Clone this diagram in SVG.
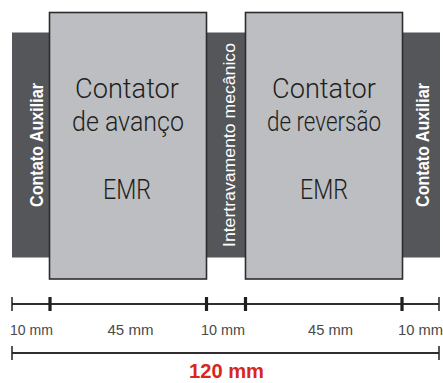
<svg xmlns="http://www.w3.org/2000/svg" width="443" height="383" viewBox="0 0 443 383">
<style>
.bar{fill:#54565a;}
.box{fill:#bcbec1;stroke:#2c2c2e;stroke-width:1.6;}
.big{font-family:Roboto,"Liberation Sans",sans-serif;font-weight:300;font-size:28px;fill:#1e1e20;text-anchor:middle;}
.vt{font-family:"Liberation Sans",Arial,sans-serif;fill:#ffffff;text-anchor:middle;}
.dim{stroke:#2e2e2e;stroke-width:2;fill:none;}
.tk{stroke:#1e1e1e;stroke-width:1.5;}
.tkb{stroke:#1e1e1e;stroke-width:3.2;}
.lbl{font-family:"Liberation Sans",Arial,sans-serif;font-size:14px;fill:#4a4a4a;}
.tot{font-family:"Liberation Sans",Arial,sans-serif;font-size:21px;font-weight:bold;fill:#d8261e;text-anchor:middle;}
</style>
<rect width="443" height="383" fill="#ffffff"/>
<g id="aux-left">
<rect class="bar" x="12" y="32.5" width="38" height="225"/>
<text class="vt" font-size="18" font-weight="bold" textLength="124" lengthAdjust="spacingAndGlyphs" transform="translate(43,145) rotate(-90)">Contato Auxiliar</text>
</g>
<g id="interlock">
<rect class="bar" x="206" y="32.5" width="40" height="225"/>
<text class="vt" font-size="17" textLength="204" lengthAdjust="spacingAndGlyphs" transform="translate(235,145) rotate(-90)">Intertravamento mecânico</text>
</g>
<g id="aux-right">
<rect class="bar" x="402" y="32.5" width="38" height="225"/>
<text class="vt" font-size="18" font-weight="bold" textLength="124" lengthAdjust="spacingAndGlyphs" transform="translate(429,145) rotate(-90)">Contato Auxiliar</text>
</g>
<g id="contator-avanco">
<rect class="box" x="49.5" y="12.5" width="157" height="266.5"/>
<text class="big" x="127" y="97.5" textLength="104" lengthAdjust="spacingAndGlyphs">Contator</text>
<text class="big" x="128" y="130.5" textLength="112" lengthAdjust="spacingAndGlyphs">de avanço</text>
<text class="big" x="127" y="199" textLength="48" lengthAdjust="spacingAndGlyphs">EMR</text>
</g>
<g id="contator-reversao">
<rect class="box" x="245.5" y="12.5" width="157" height="266.5"/>
<text class="big" x="324" y="97.5" textLength="104" lengthAdjust="spacingAndGlyphs">Contator</text>
<text class="big" x="324" y="130.5" textLength="114" lengthAdjust="spacingAndGlyphs">de reversão</text>
<text class="big" x="324" y="199" textLength="48" lengthAdjust="spacingAndGlyphs">EMR</text>
</g>
<g id="dimensions">
<line class="dim" x1="12" y1="304" x2="439" y2="304"/>
<line class="tk" x1="12" y1="297" x2="12" y2="311"/>
<line class="tkb" x1="50" y1="297" x2="50" y2="311"/>
<line class="tkb" x1="206.5" y1="297" x2="206.5" y2="311"/>
<line class="tkb" x1="245.5" y1="297" x2="245.5" y2="311"/>
<line class="tkb" x1="402" y1="297" x2="402" y2="311"/>
<line class="tk" x1="439" y1="297" x2="439" y2="311"/>
<text class="lbl" x="10" y="335" textLength="43" lengthAdjust="spacingAndGlyphs">10 mm</text>
<text class="lbl" x="107.5" y="335" textLength="46" lengthAdjust="spacingAndGlyphs">45 mm</text>
<text class="lbl" x="201" y="335" textLength="44" lengthAdjust="spacingAndGlyphs">10 mm</text>
<text class="lbl" x="308" y="335" textLength="45" lengthAdjust="spacingAndGlyphs">45 mm</text>
<text class="lbl" x="398" y="335" textLength="45" lengthAdjust="spacingAndGlyphs">10 mm</text>
<line class="dim" x1="12" y1="353" x2="439" y2="353"/>
<line class="tk" x1="12" y1="346" x2="12" y2="360"/>
<line class="tk" x1="439" y1="346" x2="439" y2="360"/>
<text class="tot" x="226.5" y="378.3" textLength="75" lengthAdjust="spacingAndGlyphs">120 mm</text>
</g>
</svg>
